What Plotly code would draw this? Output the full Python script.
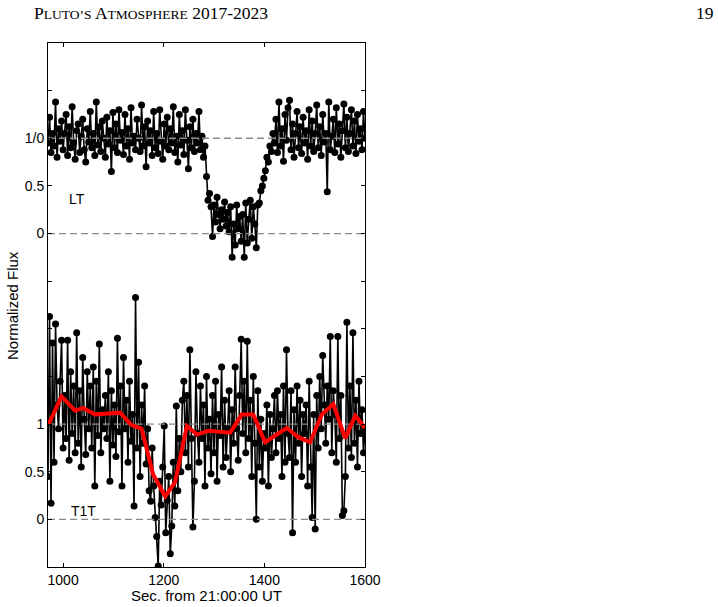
import numpy as np
import plotly.graph_objects as go

# ---------------- data ----------------
T_START = 970          # s after 21:00:00 UT
CADENCE = 3            # s between frames
LT_OFFSET = 3.0        # vertical offset of the LT light curve

lt_flux = [
    0.95, 1.22, 0.85, 1.05, 0.92, 1.38, 0.80, 1.10, 0.97, 1.18,
    0.88, 1.05, 1.25, 0.82, 1.12, 0.90, 1.33, 0.95, 0.78, 1.08,
    1.15, 0.85, 1.02, 1.20, 0.88, 0.75, 1.10, 0.96, 1.28, 0.90,
    1.05, 0.82, 1.38, 0.93, 1.12, 0.86, 1.18, 1.00, 0.80, 1.22,
    0.94, 1.08, 0.65, 1.27, 0.90, 1.15, 0.85, 1.30, 0.98, 1.06,
    0.83, 1.25, 0.92, 1.10, 0.78, 1.32, 0.95, 1.02, 0.88, 1.20,
    1.00, 0.86, 1.35, 0.92, 1.12, 0.70, 1.18, 0.95, 1.08, 0.82,
    1.28, 0.90, 1.05, 0.84, 1.30, 0.97, 0.78, 1.15, 0.92, 1.22,
    0.88, 1.10, 0.95, 1.33, 0.85, 1.02, 0.75, 1.25, 0.93, 1.08,
    0.83, 1.30, 0.98, 0.68, 1.12, 0.90, 1.20, 0.86, 1.05, 0.95,
    1.28, 0.88, 1.02, 0.80, 0.92, 0.60, 0.35, 0.42, 0.28, -0.03,
    0.30, 0.12, 0.38, 0.20, 0.05, 0.25, 0.15, 0.33, 0.08, 0.22,
    0.02, 0.28, -0.25, 0.10, -0.12, 0.30, 0.05, 0.18, -0.08, 0.20,
    -0.25, 0.32, -0.10, 0.15, 0.35, -0.05, 0.28, 0.10, -0.15, 0.30,
    0.32, 0.45, 0.50, 0.58, 0.66, 0.80, 0.75, 0.92, 0.86, 1.05,
    0.95, 1.20, 0.85, 1.38, 0.92, 1.10, 0.76, 1.25, 0.98, 1.32,
    1.40, 0.88, 1.15, 0.80, 1.05, 1.28, 0.90, 1.12, 0.84, 1.22,
    0.95, 1.08, 0.78, 1.30, 0.92, 1.18, 0.86, 1.05, 1.35, 0.90,
    1.12, 0.82, 1.25, 0.96, 1.05, 0.44, 1.38, 0.88, 1.02, 1.20,
    0.85, 1.32, 0.94, 1.15, 0.80, 1.08, 1.36, 0.90, 1.22, 0.86,
    1.05, 1.30, 0.92, 1.18, 0.84, 1.25, 0.97, 1.10, 0.88, 1.28,
    1.00,
]

t1t_flux = [
    0.45, 2.13, 0.17, 1.85, 0.60, 2.05, 1.20, 0.95, 1.45, 1.88,
    0.75, 1.30, 0.85, 1.88, 0.62, 1.55, 0.90, 1.40, 0.70, 1.96,
    0.80, 1.35, 0.55, 1.70, 1.05, 0.68, 1.55, 0.95, 1.40, 0.75,
    1.60, 0.35, 1.45, 0.88, 1.84, 0.70, 1.15, 0.95, 1.30, 0.85,
    1.55, 0.40, 1.35, 0.78, 1.20, 0.66, 1.90, 0.92, 1.40, 0.35,
    1.70, 0.95, 1.25, 0.60, 1.45, 0.82, 1.10, 0.14, 2.33, 0.75,
    1.65, 0.45, 1.20, 0.80, 1.40, 0.58, 0.95, 0.30, 0.19, 0.75,
    0.35, 0.02, -0.18, -0.49, 0.40, 0.15, 0.55, 0.98, -0.14, 0.20,
    0.45, -0.36, -0.07, 0.60, 0.14, 1.19, 0.30, 0.85, 0.50, 1.25,
    1.45, 0.70, 1.30, 0.55, 1.78, 0.85, -0.08, 0.40, 1.55, 0.90,
    0.60, 1.40, 0.85, 1.20, 0.35, 1.50, 0.75, 1.05, 0.48, 1.30,
    0.70, 1.45, 0.40, 1.10, 0.88, 1.60, 0.55, 1.25, 0.65, 0.95,
    1.35, 0.50, 1.15, 0.80, 1.60, 0.95, 0.62, 1.30, 1.89, 0.90,
    1.45, 0.70, 1.87, 0.85, 1.25, 0.45, 1.50, 0.80, 0.00, 1.35,
    0.55, 1.05, 0.40, 0.90, 0.75, 1.20, 0.35, 1.10, 0.65, 0.95,
    1.30, 0.70, 1.35, 0.85, 1.10, 0.45, 1.40, 0.60, 1.78, 0.90,
    0.65, 1.35, -0.14, 1.15, 0.60, 1.40, 0.80, 1.25, 0.45, 1.10,
    0.90, 1.20, 0.35, 1.45, 0.55, 0.02, 1.10, -0.10, 1.30, 0.75,
    1.50, 0.95, 1.72, 1.20, 0.80, 1.40, 1.05, 1.92, 0.70, 1.35,
    1.10, 0.60, 1.92, 0.85, 1.30, 0.04, 0.09, 0.45, 2.07, 0.75,
    1.40, 0.65, 1.96, 0.80, 1.25, 0.55, 1.45, 0.90, 1.15, 0.70,
    0.95,
]

# binned (smoothed) T1T light curve
bin_time = [971, 997, 1024, 1040, 1063.5, 1113, 1136, 1156, 1179, 1203,
            1222.5, 1246, 1266, 1289, 1332, 1355, 1378, 1401.5, 1444.6,
            1467.8, 1491, 1514, 1537, 1560.7, 1580.6, 1600]
bin_flux = [1.00, 1.29, 1.14, 1.17, 1.10, 1.12, 0.99, 0.95, 0.47, 0.24,
            0.39, 0.98, 0.89, 0.93, 0.91, 1.10, 1.10, 0.81, 0.96,
            0.86, 0.81, 1.10, 1.21, 0.85, 1.09, 0.96]

ref_levels = [0.0, 1.0, LT_OFFSET + 0.0, LT_OFFSET + 1.0]

x_range = [970, 1600]
y_range = [-0.5, 5.0]
x_ticks = [1000, 1200, 1400, 1600]
y_ticks = [-0.5, 0, 0.5, 1, 1.5, 2, 2.5, 3, 3.5, 4, 4.5]
y_ticktext = ["", "0", "0.5", "1", "", "", "", "0", "0.5", "1/0", ""]

# ---------------- figure ----------------
times = T_START + CADENCE * np.arange(len(lt_flux))
lt_plot = np.array(lt_flux) + LT_OFFSET

fig = go.Figure()
fig.add_trace(go.Scatter(
    x=times, y=lt_plot, mode="lines+markers",
    line=dict(color="black", width=1.6),
    marker=dict(color="black", size=7), showlegend=False))
fig.add_trace(go.Scatter(
    x=times, y=t1t_flux, mode="lines+markers",
    line=dict(color="black", width=1.6),
    marker=dict(color="black", size=7), showlegend=False))
for lv in ref_levels:
    fig.add_trace(go.Scatter(
        x=x_range, y=[lv, lv], mode="lines",
        line=dict(color="#8a8a8a", width=1.3, dash="7px,4px"),
        showlegend=False, hoverinfo="skip"))
fig.add_trace(go.Scatter(
    x=bin_time, y=bin_flux, mode="lines",
    line=dict(color="#ff0000", width=4), showlegend=False))

W, H = 718, 607
L, R, T, B = 48, 353, 43, 40
pw, ph = W - L - R, H - T - B


def px(xp):
    return (xp - L) / pw


def py(yp):
    return (H - B - yp) / ph


sans = "Liberation Sans, Arial, sans-serif"
serif = "Liberation Serif, Times New Roman, serif"

annotations = [
    dict(text="LT", x=1027, y=LT_OFFSET + 0.36, xref="x", yref="y",
         showarrow=False, font=dict(family=sans, size=14, color="black")),
    dict(text="T1T", x=1040, y=0.09, xref="x", yref="y",
         showarrow=False, font=dict(family=sans, size=14, color="black")),
    dict(text="Sec. from 21:00:00 UT", x=0.5, y=py(595), xref="paper", yref="paper",
         showarrow=False, xanchor="center", yanchor="middle",
         font=dict(family=sans, size=15, color="black")),
    dict(text="Normalized Flux", x=px(12), y=py(306), xref="paper", yref="paper",
         showarrow=False, textangle=-90, xanchor="center", yanchor="middle",
         font=dict(family=sans, size=15, color="black")),
    dict(text="P<span style='font-size:13.5px'>LUTO’S</span> A<span style='font-size:13.5px'>TMOSPHERE</span> 2017-2023",
         x=px(32), y=py(13), xref="paper", yref="paper", showarrow=False,
         xanchor="left", yanchor="middle",
         font=dict(family=serif, size=17.5, color="black")),
    dict(text="19", x=px(716), y=py(13), xref="paper", yref="paper", showarrow=False,
         xanchor="right", yanchor="middle",
         font=dict(family=serif, size=17.5, color="black")),
]

fig.update_layout(
    width=W, height=H,
    margin=dict(l=L, r=R, t=T, b=B, pad=0),
    paper_bgcolor="white", plot_bgcolor="white",
    annotations=annotations,
    xaxis=dict(range=x_range, tickvals=x_ticks, ticks="inside", ticklen=4,
               tickcolor="black", showline=True, linecolor="black", linewidth=1,
               mirror="ticks", showgrid=False, zeroline=False,
               tickfont=dict(family=sans, size=14, color="black")),
    yaxis=dict(range=y_range, tickvals=y_ticks, ticktext=y_ticktext,
               ticks="inside", ticklen=4, tickcolor="black", showline=True,
               linecolor="black", linewidth=1, mirror="ticks", showgrid=False,
               zeroline=False, tickfont=dict(family=sans, size=14, color="black")),
)

fig.write_html("out.html")
